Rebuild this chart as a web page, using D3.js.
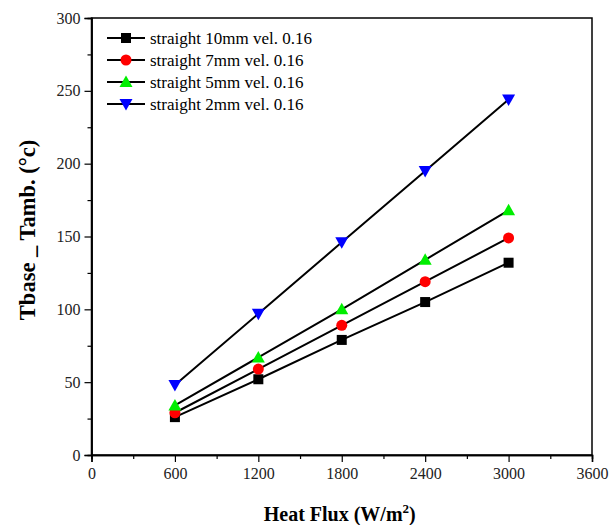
<html>
<meta charset="utf-8">
<title>Tbase - Tamb vs heat flux</title>
<style>
  svg text { font-family: "Liberation Serif", "Times New Roman", "DejaVu Serif", serif; }
</style>
<body style="margin:0;background:#fff">
<div id="chart"></div>
<script src="https://d3js.org/d3.v7.min.js"></script>
<script>
// values
var heatFlux = [600, 1200, 1800, 2400, 3000];
var seriesNames = ["straight 10mm vel. 0.16", "straight 7mm vel. 0.16", "straight 5mm vel. 0.16", "straight 2mm vel. 0.16"];
var s10mm = [26, 52, 79, 105, 132];
var s7mm = [29, 59, 89, 119, 149];
var s5mm = [34, 67, 100, 134, 168];
var s2mm = [48, 97, 146, 195, 244];
var xTicks = [0, 600, 1200, 1800, 2400, 3000, 3600];
var yTicks = [0, 50, 100, 150, 200, 250, 300];

var W = 609, H = 525;
var m = {left: 91.5, right: 17, top: 18, bottom: 70};
var svg = d3.select("#chart").append("svg").attr("width", W).attr("height", H);

var x = d3.scaleLinear().domain([0, 3600]).range([m.left, W - m.right]);
var y = d3.scaleLinear().domain([0, 300]).range([H - m.bottom, m.top]);

// frame
svg.append("rect")
  .attr("x", x(0)).attr("y", y(300))
  .attr("width", x(3600) - x(0)).attr("height", y(0) - y(300))
  .attr("fill", "none").attr("stroke", "#000").attr("stroke-width", 1.5);

// axes
svg.append("g").attr("transform", "translate(0," + y(0) + ")")
  .call(d3.axisBottom(x).tickValues(xTicks).tickSize(7).tickPadding(6).tickFormat(d3.format("d")));
svg.append("g").attr("transform", "translate(0," + y(0) + ")")
  .call(d3.axisBottom(x).tickValues(d3.range(300, 3600, 600)).tickSize(4).tickFormat(""));
svg.append("g").attr("transform", "translate(" + x(0) + ",0)")
  .call(d3.axisLeft(y).tickValues(yTicks).tickSize(7).tickPadding(4));
svg.append("g").attr("transform", "translate(" + x(0) + ",0)")
  .call(d3.axisLeft(y).tickValues(d3.range(25, 300, 50)).tickSize(4).tickFormat(""));

svg.selectAll(".domain").attr("stroke-width", 1.5);
svg.selectAll(".tick line").attr("stroke-width", 1.2);
svg.selectAll("g").attr("font-family", null);
svg.selectAll(".tick text").attr("font-size", 16).attr("fill", "#222");

// axis titles
svg.append("text")
  .attr("transform", "translate(35,230) rotate(-90)")
  .attr("text-anchor", "middle")
  .attr("font-size", 22.5).attr("font-weight", "bold")
  .text("Tbase _ Tamb. (\u00B0c)");

var xt = svg.append("text")
  .attr("x", x(1800) - 2).attr("y", 521)
  .attr("text-anchor", "middle")
  .attr("font-size", 20).attr("font-weight", "bold");
xt.append("tspan").text("Heat Flux (W/m");
xt.append("tspan").attr("dy", -8).attr("font-size", 13).text("2");
xt.append("tspan").attr("dy", 8).text(")");

// series
var series = [
  {name: seriesNames[0], values: s10mm, color: "#000000", shape: "square"},
  {name: seriesNames[1], values: s7mm, color: "#ff0000", shape: "circle"},
  {name: seriesNames[2], values: s5mm, color: "#00ee00", shape: "up"},
  {name: seriesNames[3], values: s2mm, color: "#0000ff", shape: "down"}
];

function marker(g, shape, color) {
  if (shape == "square") {
    g.append("rect").attr("x", -5).attr("y", -5).attr("width", 10).attr("height", 10).attr("fill", color);
  } else if (shape == "circle") {
    g.append("circle").attr("r", 5.5).attr("fill", color);
  } else if (shape == "up") {
    g.append("path").attr("d", "M0,-6.5L6.5,5L-6.5,5Z").attr("fill", color);
  } else {
    g.append("path").attr("d", "M0,6.5L6.5,-5L-6.5,-5Z").attr("fill", color);
  }
}

var line = d3.line().x(function (d, i) { return x(heatFlux[i]); }).y(function (d) { return y(d); });

series.forEach(function (s) {
  svg.append("path").attr("d", line(s.values))
    .attr("fill", "none").attr("stroke", "#000").attr("stroke-width", 2);
});
series.forEach(function (s) {
  s.values.forEach(function (v, i) {
    var g = svg.append("g").attr("transform", "translate(" + x(heatFlux[i]) + "," + y(v) + ")");
    marker(g, s.shape, s.color);
  });
});

// legend
series.forEach(function (s, i) {
  var ly = 38 + i * 22;
  svg.append("line").attr("x1", 107).attr("x2", 145).attr("y1", ly).attr("y2", ly)
    .attr("stroke", "#000").attr("stroke-width", 2);
  var g = svg.append("g").attr("transform", "translate(126," + ly + ")");
  marker(g, s.shape, s.color);
  svg.append("text").attr("x", 150).attr("y", ly + 5.5)
    .attr("font-size", 17)
    .text(s.name);
});
</script>
</body>
</html>
